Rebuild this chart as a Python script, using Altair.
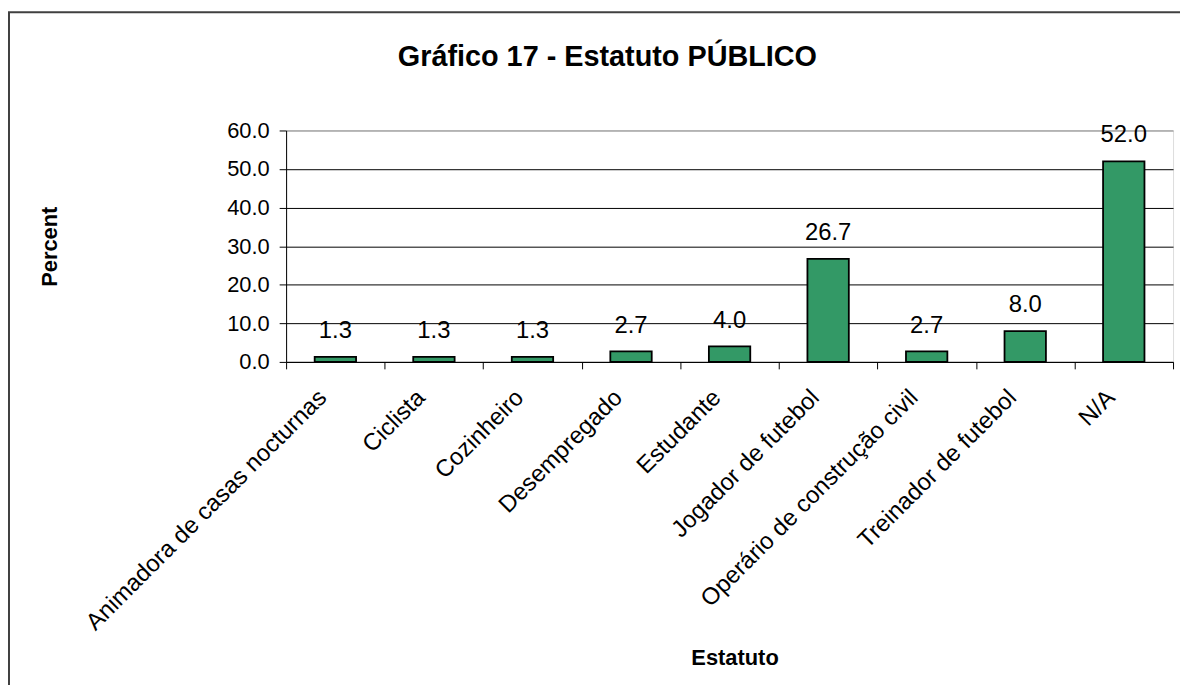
import altair as alt
import pandas as pd

categories = [
    "Animadora de casas nocturnas", "Ciclista", "Cozinheiro", "Desempregado",
    "Estudante", "Jogador de futebol", "Operário de construção civil",
    "Treinador de futebol", "N/A",
]
percents = [1.3, 1.3, 1.3, 2.7, 4.0, 26.7, 2.7, 8.0, 52.0]
y_ticks = [0, 10, 20, 30, 40, 50, 60]

df = pd.DataFrame({"Estatuto": categories, "Percent": percents})

FONT = "Liberation Sans"
W, H = 893, 233

x_enc = alt.X(
    "Estatuto:N", sort=categories,
    scale=alt.Scale(paddingInner=0, paddingOuter=0),
    axis=alt.Axis(
        tickBand="extent", labelAngle=-45, labelAlign="right", labelBaseline="middle",
        labelFontSize=24, labelFont=FONT, labelColor="black", labelLimit=1000,
        labelPadding=25, labelOffset=-13, tickSize=7, tickColor="black",
        domainColor="black",
        title="Estatuto", titleFont=FONT, titleFontSize=22, titleFontWeight="bold",
        titleColor="black", titleX=W / 2 + 5, titleY=305, titleBaseline="alphabetic",
        titleAlign="center", grid=False,
    ),
)
y_enc = alt.Y(
    "Percent:Q",
    scale=alt.Scale(domain=[0, 60], nice=False),
    axis=alt.Axis(
        values=y_ticks, format=".1f", labelFontSize=22, labelFont=FONT,
        labelColor="black", tickSize=7, tickColor="black", labelPadding=10,
        domainColor="black", labelOverlap=False,
        gridColor=alt.condition("datum.value == 60", alt.value("#808080"), alt.value("black")),
        title="Percent", titleFont=FONT, titleFontSize=22, titleFontWeight="bold",
        titleColor="black", titleAngle=-90, titleX=-231, titleY=H / 2,
        titleBaseline="alphabetic", titleAlign="center",
    ),
)

base = alt.Chart(df).encode(x=x_enc, y=y_enc)

bars = base.mark_bar(
    color="#339966", stroke="black", strokeWidth=1.8,
    width=alt.RelativeBandSize(0.42),
)

labels = base.mark_text(
    baseline="alphabetic", dy=-19, fontSize=24, font=FONT, color="black"
).encode(
    text=alt.Text("Percent:Q", format=".1f"),
)

frame = alt.Chart(alt.Data(values=[{"a": 1}])).mark_rect(
    filled=False, stroke="#404040", strokeWidth=2
).encode(
    x=alt.value(-279), x2=alt.value(1300),
    y=alt.value(-119), y2=alt.value(700),
)

chart = alt.layer(bars, labels, frame).properties(
    width=W, height=H,
    title=alt.Title(
        "Gráfico 17 - Estatuto PÚBLICO", font=FONT, fontSize=29, fontWeight="bold",
        color="black", anchor="middle", dx=-123, baseline="alphabetic", offset=48, dy=132,
    ),
    autosize=alt.AutoSizeParams(type="none"),
    padding={"left": 280, "top": 121, "right": 7, "bottom": 323},
).configure_view(
    fill="#C0C0C0", stroke="#808080", strokeWidth=1.5
).configure(background="white")

chart.save("out.html", embed_options={"renderer": "svg", "actions": False})
